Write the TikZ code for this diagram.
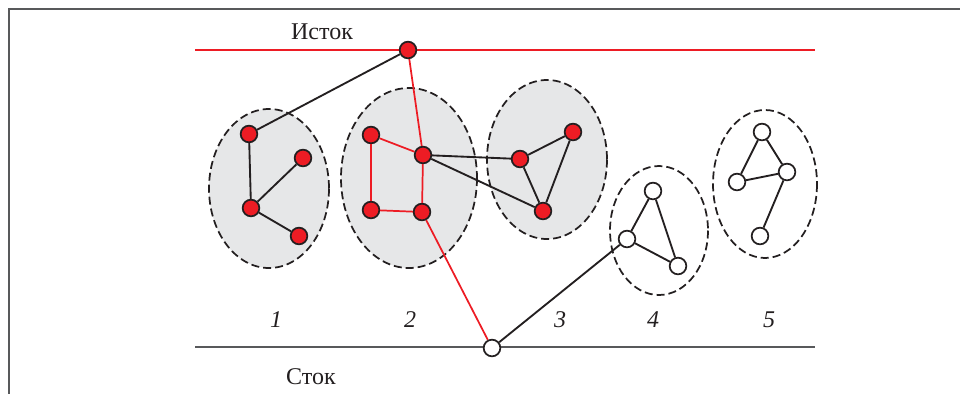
\documentclass[tikz,border=0pt]{standalone}
\usepackage{fontspec}
\setmainfont{Liberation Serif}
\definecolor{myred}{HTML}{ED1C24}
\definecolor{myink}{HTML}{231F20}
\definecolor{mygray}{HTML}{E6E7E8}
\definecolor{myframe}{HTML}{58595B}
\begin{document}
\begin{tikzpicture}[x=0.75pt,y=-0.75pt,
  grp/.style={draw=myink,dash pattern=on 6pt off 3pt,line width=1.3pt},
  grpfill/.style={grp,fill=mygray},
  rnode/.style={circle,draw=myink,fill=myred,line width=1.3pt,minimum size=12.5pt,inner sep=0pt},
  wnode/.style={circle,draw=myink,fill=white,line width=1.3pt,minimum size=12.5pt,inner sep=0pt},
  bedge/.style={draw=myink,line width=1.4pt},
  redge/.style={draw=myred,line width=1.3pt},
  lbl/.style={font=\fontsize{18}{20}\selectfont,text=myink},
  num/.style={font=\fontsize{18}{20}\selectfont\itshape,text=myink}]
\useasboundingbox (0,0) rectangle (960,394);
% frame
\draw[draw=myframe,line width=1.3pt] (960,9) -- (9,9) -- (9,394);
% source and sink lines
\coordinate (sl) at (195,50); \coordinate (sr) at (815,50);
\coordinate (kl) at (195,347); \coordinate (kr) at (815,347);
\draw[redge] (sl) -- (sr);
\draw[bedge,draw=myframe] (kl) -- (kr);
\node[lbl] (src) at (322,32) {Исток};
\node[lbl] (snk) at (311,377) {Сток};
% groups
\draw[grpfill] (269,188.5) ellipse [x radius=60, y radius=79.5];
\draw[grpfill] (409,178) ellipse [x radius=68, y radius=90];
\draw[grpfill] (547,159.5) ellipse [x radius=60, y radius=79.5];
\draw[grp] (659,230.5) ellipse [x radius=49, y radius=64.5];
\draw[grp] (765,184) ellipse [x radius=52, y radius=74];
% numbers
\node[num] (n1) at (276,320) {1};
\node[num] (n2) at (410,320) {2};
\node[num] (n3) at (560,320) {3};
\node[num] (n4) at (653,320) {4};
\node[num] (n5) at (769,320) {5};
% nodes
\node[rnode] (s) at (408,50) {};
\node[wnode] (t) at (492,348) {};
\node[rnode] (a1) at (249,134) {};
\node[rnode] (a2) at (303,158) {};
\node[rnode] (a3) at (251,208) {};
\node[rnode] (a4) at (299,236) {};
\node[rnode] (b1) at (371,135) {};
\node[rnode] (b2) at (423,155) {};
\node[rnode] (b3) at (371,210) {};
\node[rnode] (b4) at (422,212) {};
\node[rnode] (c1) at (520,159) {};
\node[rnode] (c2) at (573,132) {};
\node[rnode] (c3) at (543,211) {};
\node[wnode] (d1) at (653,191) {};
\node[wnode] (d2) at (627,239) {};
\node[wnode] (d3) at (678,266) {};
\node[wnode] (e1) at (762,132) {};
\node[wnode] (e2) at (737,182) {};
\node[wnode] (e3) at (787,172) {};
\node[wnode] (e4) at (760,236) {};
% edges
\draw[bedge] (s) -- (a1);
\draw[bedge] (a1) -- (a3);
\draw[bedge] (a3) -- (a2);
\draw[bedge] (a3) -- (a4);
\draw[redge] (s) -- (b2);
\draw[redge] (b1) -- (b2);
\draw[redge] (b1) -- (b3);
\draw[redge] (b3) -- (b4);
\draw[redge] (b2) -- (b4);
\draw[redge] (b4) -- (t);
\draw[bedge] (b2) -- (c1);
\draw[bedge] (b2) -- (c3);
\draw[bedge] (c1) -- (c2);
\draw[bedge] (c1) -- (c3);
\draw[bedge] (c2) -- (c3);
\draw[bedge] (t) -- (d2);
\draw[bedge] (d1) -- (d2);
\draw[bedge] (d1) -- (d3);
\draw[bedge] (d2) -- (d3);
\draw[bedge] (e1) -- (e2);
\draw[bedge] (e1) -- (e3);
\draw[bedge] (e2) -- (e3);
\draw[bedge] (e3) -- (e4);
\end{tikzpicture}
\end{document}
